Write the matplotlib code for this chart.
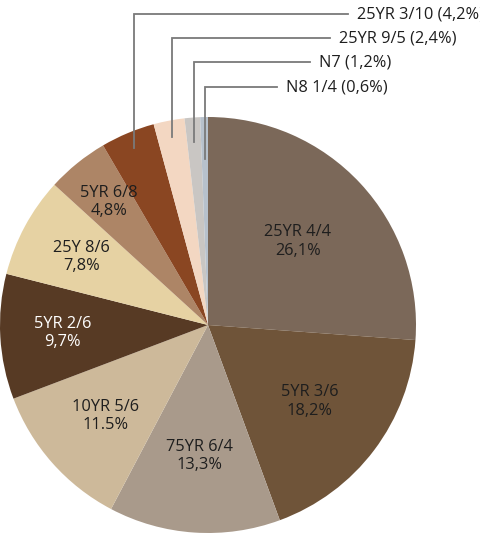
import numpy as np
import matplotlib
matplotlib.use("Agg")
import matplotlib.pyplot as plt

names = ["25YR 4/4", "5YR 3/6", "75YR 6/4", "10YR 5/6", "5YR 2/6", "25Y 8/6",
         "5YR 6/8", "25YR 3/10", "25YR 9/5", "N7", "N8 1/4"]
values = [26.1, 18.2, 13.3, 11.5, 9.7, 7.8, 4.8, 4.2, 2.4, 1.2, 0.6]
pct_text = ["26,1%", "18,2%", "13,3%", "11.5%", "9,7%", "7,8%", "4,8%",
            "4,2%", "2,4%", "1,2%", "0,6%"]
colors = ["#7b6859", "#6f5439", "#a99a8b", "#cdb99a", "#573a24", "#e6d2a3",
          "#ad8566", "#8a4622", "#f3d7c2", "#c9c6c3", "#b7c1cc"]

plt.rcParams['font.family'] = ['Open Sans', 'DejaVu Sans']

W, H = 481, 537
fig = plt.figure(figsize=(W / 100, H / 100), dpi=100)
ax = fig.add_axes([0, 0, 1, 1])

cx, cy, R = 208, 325, 208
wedges, _ = ax.pie(values, colors=colors, startangle=90, counterclock=False,
                   radius=1.0, wedgeprops=dict(linewidth=0))
ax.set_xlim(-cx / R, (W - cx) / R)
ax.set_ylim(-(H - cy) / R, cy / R)
ax.set_aspect('equal')
ax.axis('off')

FS = 11.8
# inside labels
inside_r = [0.59, 0.61, 0.63, 0.66, 0.70, 0.69, 0.76]
inside_col = ["#1e1e1e", "#1e1e1e", "#1e1e1e", "#1e1e1e", "white", "#1e1e1e", "#1e1e1e"]
for i, (w, rr) in enumerate(zip(wedges[:7], inside_r)):
    ang = np.deg2rad((w.theta1 + w.theta2) / 2)
    ax.text(rr * np.cos(ang), rr * np.sin(ang), f"{names[i]}\n{pct_text[i]}",
            ha='center', va='center', fontsize=FS, color=inside_col[i],
            linespacing=1.2)

# callouts for small slices
label_y_px = [14, 38, 62, 87]
line_end_px = [348, 330, 310, 277]
for k, i in enumerate(range(7, 11)):
    w = wedges[i]
    ang = np.deg2rad((w.theta1 + w.theta2) / 2)
    r0 = 0.92 if k < 2 else (0.88 if k == 2 else 0.8)
    x0, y0 = r0 * np.cos(ang), r0 * np.sin(ang)
    yt = (cy - label_y_px[k]) / R
    xe = (line_end_px[k] - cx) / R
    ax.plot([x0, x0, xe], [y0, yt, yt], color="#7a7a7a", lw=1.3,
            solid_joinstyle='miter', clip_on=False)
    ax.text(xe + 9 / R, yt, f"{names[i]} ({pct_text[i]})", ha='left', va='center',
            fontsize=FS, color="#1e1e1e", clip_on=False)

fig.savefig("out.png", dpi=100)
